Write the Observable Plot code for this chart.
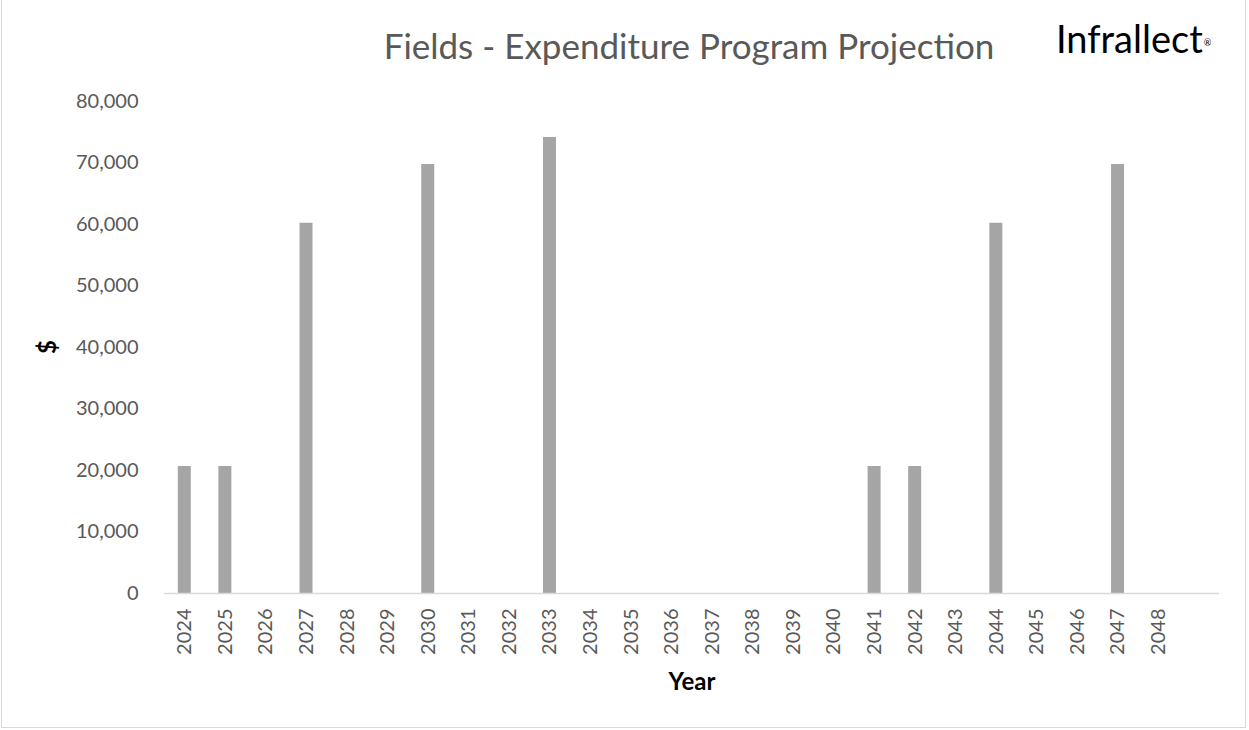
<!DOCTYPE html>
<html>
<head>
<meta charset="utf-8">
<script src="https://cdn.jsdelivr.net/npm/d3@7"></script>
<script src="https://cdn.jsdelivr.net/npm/@observablehq/plot@0.6"></script>
<style>
  html, body { margin: 0; padding: 0; background: #ffffff; }
  #wrap { position: relative; width: 1249px; height: 730px; overflow: hidden; font-family: Lato, "Open Sans", sans-serif; }
  #frame { position: absolute; left: 1px; top: -1px; width: 1245px; height: 729px; border: 1px solid #d9d9d9; box-sizing: border-box; }
  #chart { position: absolute; left: 0; top: 0; }
  .title { position: absolute; left: 689px; top: 24px; transform: translateX(-50%); white-space: nowrap; font-size: 35px; color: #595959; }
  .logo { position: absolute; left: 1056px; top: 15px; white-space: nowrap; font-size: 38px; color: #000; }
  .logo sup { font-size: 9px; vertical-align: 7px; margin-left: 1px; }
  .ylab { position: absolute; left: 46px; top: 347px; transform: translate(-50%, -50%) rotate(-90deg); font-weight: bold; font-size: 24px; color: #000; }
  .xlab { position: absolute; left: 692px; top: 680px; transform: translate(-50%, -50%); font-weight: bold; font-size: 24px; color: #000; }
</style>
</head>
<body>
<div id="wrap">
  <div id="frame"></div>
  <div id="chart"></div>
  <div class="title">Fields - Expenditure Program Projection</div>
  <div class="logo">Infrallect<sup>®</sup></div>
  <div class="ylab">$</div>
  <div class="xlab">Year</div>
</div>
<script>
const years = ["2024","2025","2026","2027","2028","2029","2030","2031","2032","2033","2034","2035","2036","2037","2038","2039","2040","2041","2042","2043","2044","2045","2046","2047","2048"];
const spend = [20650,20650,0,60200,0,0,69750,0,0,74150,0,0,0,0,0,0,0,20650,20650,0,60200,0,0,69750,0];
const yTicks = [0,10000,20000,30000,40000,50000,60000,70000,80000];
const trailingSlot = [" "];

const data = years.map((y, i) => ({year: y, value: spend[i]}));

const chart = Plot.plot({
  width: 1249,
  height: 730,
  marginLeft: 164,
  marginRight: 30,
  marginTop: 101,
  marginBottom: 137,
  style: { fontFamily: "Lato, 'Open Sans', sans-serif", fontSize: "20px", color: "#595959", background: "transparent", overflow: "visible" },
  x: { type: "band", domain: years.concat(trailingSlot), paddingInner: 0.68, paddingOuter: 0.34, round: false },
  y: { domain: [0, 80000] },
  marks: [
    Plot.barY(data, { x: "year", y: "value", fill: "#a5a5a5" }),
    Plot.ruleY([0], { stroke: "#d9d9d9", strokeWidth: 1.5 }),
    Plot.axisX({ tickSize: 0, tickPadding: 15, tickRotate: -90, label: null }),
    Plot.axisY({ ticks: yTicks, tickSize: 0, tickPadding: 26, tickFormat: d3.format(","), label: null })
  ]
});
document.getElementById("chart").appendChild(chart);
</script>
</body>
</html>
